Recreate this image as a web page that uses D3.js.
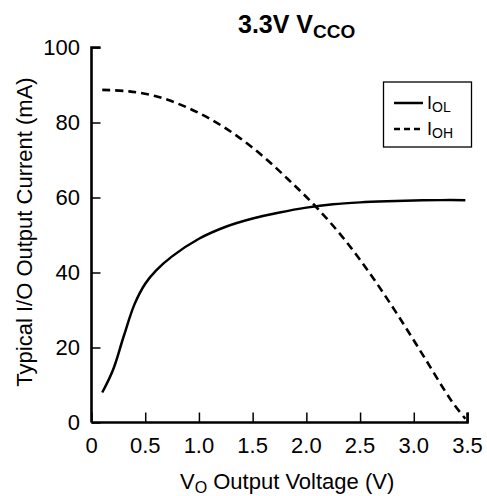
<!DOCTYPE html>
<html>
<head>
<meta charset="utf-8">
<script src="https://cdn.jsdelivr.net/npm/d3@7"></script>
<style>
  body { margin: 0; background: #fff; }
  text { font-family: "Liberation Sans", Arial, sans-serif; fill: #000; }
</style>
</head>
<body>
<svg id="chart" width="487" height="496"></svg>
<script>
// values
const xTicks = [0, 0.5, 1.0, 1.5, 2.0, 2.5, 3.0, 3.5];
const yTicks = [0, 20, 40, 60, 80, 100];

const iolV = [0.1, 0.2, 0.3, 0.4, 0.5, 0.6, 0.75, 1.0, 1.25, 1.5, 1.75, 2.0, 2.25, 2.5, 2.75, 3.0, 3.25, 3.48];
const iolI = [8.0, 14.0, 23.0, 31.5, 37.0, 40.5, 44.3, 49.0, 52.2, 54.4, 56.0, 57.3, 58.2, 58.7, 59.0, 59.2, 59.3, 59.3];

const iohV = [0.1, 0.35, 0.6, 0.85, 1.1, 1.35, 1.6, 1.85, 2.1, 2.35, 2.6, 2.85, 3.1, 3.35, 3.48];
const iohI = [88.7, 88.3, 87.0, 84.5, 81.0, 76.5, 70.9, 64.3, 57.2, 49.0, 39.4, 28.7, 17.3, 5.8, 1.0];

const svg = d3.select('#chart');

const x = d3.scaleLinear().domain([0, 3.5]).range([91.5, 467.5]);
const y = d3.scaleLinear().domain([0, 100]).range([422.5, 47.5]);

const line = d3.line()
  .x(d => x(d[0]))
  .y(d => y(d[1]))
  .curve(d3.curveCatmullRom);

// axes, ticks pointing inward
const xAxis = svg.append('g')
  .attr('transform', `translate(0,${y(0)})`)
  .call(d3.axisTop(x).tickValues(xTicks).tickSize(10).tickFormat(''));
const yAxis = svg.append('g')
  .attr('transform', `translate(${x(0)},0)`)
  .call(d3.axisRight(y).tickValues(yTicks).tickSize(9).tickFormat(''));

[xAxis, yAxis].forEach(a => {
  a.select('.domain').attr('stroke', '#000').attr('stroke-width', 2.6);
  a.selectAll('.tick line').attr('stroke', '#000').attr('stroke-width', 1.5);
});
// keep only the outer stubs the reference shows
xAxis.select('.domain').attr('d', `M${x(0)},0H${x(3.5)}V-10`);
yAxis.select('.domain').attr('d', `M9,${y(100)}H0V${y(0)}`);

svg.append('g').selectAll('text')
  .data(xTicks)
  .join('text')
  .attr('x', d => x(d))
  .attr('y', 453)
  .attr('text-anchor', 'middle')
  .attr('font-size', 22)
  .text(d => d === 0 ? '0' : d.toFixed(1));

svg.append('g').selectAll('text')
  .data(yTicks)
  .join('text')
  .attr('x', 80)
  .attr('y', d => y(d))
  .attr('dy', '0.36em')
  .attr('text-anchor', 'end')
  .attr('font-size', 22)
  .text(d => d);

// curves
svg.append('path')
  .datum(d3.zip(iolV, iolI))
  .attr('fill', 'none')
  .attr('stroke', '#000')
  .attr('stroke-width', 2.5)
  .attr('d', line);

svg.append('path')
  .datum(d3.zip(iohV, iohI))
  .attr('fill', 'none')
  .attr('stroke', '#000')
  .attr('stroke-width', 2.6)
  .attr('stroke-dasharray', '8,5')
  .attr('d', line);

// title
const title = svg.append('text')
  .attr('x', 238).attr('y', 33)
  .attr('font-size', 25).attr('font-weight', 'bold');
title.append('tspan').text('3.3V V');
title.append('tspan').attr('font-size', 19).attr('dy', 5).text('CCO');

// x label
const xl = svg.append('text')
  .attr('x', 180).attr('y', 489)
  .attr('font-size', 22);
xl.append('tspan').text('V');
xl.append('tspan').attr('font-size', 16).attr('dy', 4).text('O');
xl.append('tspan').attr('dy', -4).text(' Output Voltage (V)');

// y label
svg.append('text')
  .attr('transform', 'translate(32,232) rotate(-90)')
  .attr('text-anchor', 'middle')
  .attr('font-size', 22)
  .text('Typical I/O Output Current (mA)');

// legend
const lg = svg.append('g');
lg.append('rect')
  .attr('x', 383.5).attr('y', 82)
  .attr('width', 88).attr('height', 65)
  .attr('fill', '#fff').attr('stroke', '#000').attr('stroke-width', 1.3);

const legendItems = [
  { name: 'OL', dash: null, y: 103 },
  { name: 'OH', dash: '6,4', y: 129 }
];
legendItems.forEach(it => {
  lg.append('line')
    .attr('x1', 394).attr('x2', 423)
    .attr('y1', it.y).attr('y2', it.y)
    .attr('stroke', '#000').attr('stroke-width', 2.5)
    .attr('stroke-dasharray', it.dash);
  const t = lg.append('text')
    .attr('x', 427).attr('y', it.y + 6)
    .attr('font-size', 18);
  t.append('tspan').text('I');
  t.append('tspan').attr('font-size', 14).attr('dy', 3).text(it.name);
});
</script>
</body>
</html>
